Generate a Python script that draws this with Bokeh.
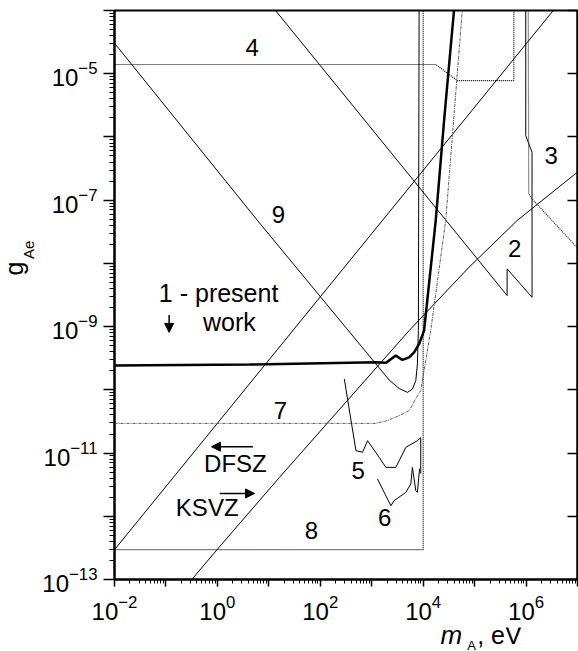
from bokeh.plotting import figure
from bokeh.layouts import column, row
from bokeh.models import FixedTicker, LogAxis, Label, Arrow, NormalHead, CustomJSTickFormatter, Range1d
from bokeh.core.properties import value
from bokeh.embed import file_html
from bokeh.resources import INLINE

# ---------------- data (m_A in eV, g_Ae) ----------------
c1_m = [0.01, 4.23, 1205, 1884, 2944, 3954, 5333, 6668, 8337, 10420, 17540, 26000, 39720]
c1_g = [2.42e-10, 2.51e-10, 2.72e-10, 2.67e-10, 3.48e-10, 2.97e-10, 3.27e-10, 3.92e-10,
        5.32e-10, 8.65e-10, 4.75e-8, 2.18e-6, 1e-4]

c9_m = [0.01, 6.04, 1205, 2183, 3412, 4943, 6180, 7194, 7727, 8072, 8337]
c9_g = [3.04e-5, 4.75e-8, 2.57e-10, 1.43e-10, 1.05e-10, 9.12e-11, 1.03e-10, 1.40e-10,
        2.57e-10, 8.65e-10, 1e-4]

c7_m = [0.01, 1205, 1995, 3412, 5333, 7194, 8974, 14030, 27420, 57540]
c7_g = [2.95e-11, 2.95e-11, 3.26e-11, 3.91e-11, 4.69e-11, 7.26e-11, 9.70e-11, 8.65e-10, 4.75e-8, 1e-4]

c8_m = [0.01, 1e4, 1e4]
c8_g = [2.96e-13, 2.96e-13, 1e-4]

c4_m = [0.01, 17540, 46030, 578100, 578100]
c4_g = [1.40e-5, 1.40e-5, 7.80e-6, 7.80e-6, 1e-4]

c2_m = [13.49, 428500, 428500, 1306000, 1306000, 986200, 986200]
c2_g = [1e-4, 3.10e-9, 8.18e-9, 2.91e-9, 5.73e-7, 1.05e-6, 1e-4]

c3_m = [1.104e6, 1.127e6, 1.306e6, 1e7]
c3_g = [1e-4, 1.26e-7, 1.05e-7, 1.75e-8]

c5_m = [293.1, 379.3, 494.3, 663.7, 829.8, 1396, 1884, 2944, 4603, 7727, 8974, 8974]
c5_g = [1.49e-10, 4.06e-11, 1.09e-11, 1.03e-11, 1.57e-11, 8.55e-12, 5.94e-12, 5.94e-12,
        1.23e-11, 1.57e-11, 1.75e-11, 4.72e-12]

c6_m = [1294, 2355, 2729, 4603, 5754, 6180, 7194, 7727, 8511]
c6_g = [3.89e-12, 1.47e-12, 1.77e-12, 2.39e-12, 3.24e-12, 5.94e-12, 2.54e-12, 2.39e-12, 5.66e-12]

dfsz_m = [0.01, 3.38e6]
dfsz_g = [2.96e-13, 1e-4]

ksvz_m = [0.313, 0.982, 16.11, 5333, 77620, 669900, 1e7]
ksvz_g = [9.82e-14, 2.96e-13, 4.13e-12, 8.65e-10, 8.67e-9, 4.75e-8, 2.78e-7]

x_major = [1e-2, 1e-1, 1.0, 1e1, 1e2, 1e3, 1e4, 1e5, 1e6, 1e7]
y_major = [1e-13, 1e-12, 1e-11, 1e-10, 1e-9, 1e-8, 1e-7, 1e-6, 1e-5, 1e-4]
x_labeled = [1e-2, 1.0, 1e2, 1e4, 1e6]
y_labeled = [1e-13, 1e-11, 1e-9, 1e-7, 1e-5]

# curve number labels: text, m, g (text anchor)
num_text = ["4", "9", "3", "2", "7", "5", "6", "8"]
num_m = [4.72, 15.42, 3.076e6, 6.04e5, 16.87, 547, 1786, 67.1]
num_g = [2.63e-5, 6.02e-8, 5.09e-7, 1.70e-8, 4.71e-11, 5.28e-12, 9.64e-13, 5.95e-13]

FONT = "Liberation Sans"
YW = 36          # width of the y-title strip
MH = 627         # height of the main figure
XH = 651 - MH    # height of the x-title strip

p = figure(width=578 - YW, height=MH, x_axis_type="log", y_axis_type="log",
           x_range=(1e-2, 1e7), y_range=(1e-13, 1e-4), title=None,
           output_backend="svg", toolbar_location=None,
           min_border_left=114 - YW, min_border_right=1, min_border_top=10,
           min_border_bottom=MH - 579)
p.grid.visible = False
p.outline_line_color = "black"
p.outline_line_width = 2

def minors(majors):
    out = []
    for d in majors[:-1]:
        out += [j * d for j in range(2, 10)]
    return out

p.xaxis.ticker = FixedTicker(ticks=x_major, minor_ticks=minors(x_major))
p.yaxis.ticker = FixedTicker(ticks=y_major, minor_ticks=minors(y_major))
p.xaxis.major_label_overrides = {t: "" for t in x_major if t not in x_labeled}
p.yaxis.major_label_overrides = {t: "" for t in y_major if t not in y_labeled}

for ax in (p.xaxis[0], p.yaxis[0]):
    ax.axis_line_width = 2
    ax.major_tick_line_width = 1.5
    ax.minor_tick_line_width = 1
    ax.major_tick_in = 0
    ax.minor_tick_in = 0
    ax.major_label_text_font = FONT
    ax.major_label_text_font_size = "24px"
    ax.major_label_text_color = "black"
p.xaxis.major_tick_out = 7
p.xaxis.minor_tick_out = 4
p.xaxis.major_label_standoff = 8
p.yaxis.major_tick_out = 11
p.yaxis.minor_tick_out = 5
p.yaxis.major_label_standoff = 6

right = LogAxis(ticker=FixedTicker(ticks=y_major, minor_ticks=[]),
                formatter=CustomJSTickFormatter(code="return ''"),
                major_tick_in=10, major_tick_out=0, minor_tick_in=0, minor_tick_out=0,
                major_label_standoff=0, major_label_text_font_size="0px",
                axis_line_width=2, major_tick_line_width=1.5)
p.add_layout(right, "right")

# curves
p.line(c9_m, c9_g, line_color="black", line_width=1)
p.line(c2_m, c2_g, line_color="black", line_width=1)
p.line(dfsz_m, dfsz_g, line_color="black", line_width=1)
p.line(ksvz_m, ksvz_g, line_color="black", line_width=1)
p.line(c5_m, c5_g, line_color="black", line_width=1)
p.line(c6_m, c6_g, line_color="black", line_width=1)
p.line(c8_m, c8_g, line_color="black", line_width=1.2, line_dash="1 1")
p.line(c4_m, c4_g, line_color="black", line_width=1.2, line_dash="1 1")
p.line(c3_m, c3_g, line_color="#222222", line_width=1.2, line_dash="1 1")
p.line(c7_m, c7_g, line_color="#555555", line_width=1, line_dash="3 1 1 1")
p.line(c1_m, c1_g, line_color="black", line_width=2.5)

for t, m, g in zip(num_text, num_m, num_g):
    p.add_layout(Label(x=m, y=g, text=t, text_align="center", text_baseline="alphabetic",
                       text_font=FONT, text_font_size="24px", text_color="black"))

def lab(x, y, t, size="24px", align="left"):
    p.add_layout(Label(x=x, y=y, text=t, text_align=align, text_baseline="alphabetic",
                       text_font=FONT, text_font_size=size, text_color="black"))

lab(2.244, 6.72e-12, "DFSZ", align="center")
lab(0.634, 1.385e-12, "KSVZ", align="center")
lab(0.0728, 3.34e-9, "1 - present", size="25px")
lab(0.526, 1.19e-9, "work", size="25px")

# arrows
for xs, ys, xe, ye in [(4.9, 1.26e-11, 0.766, 1.26e-11),
                       (1.11, 2.3e-12, 5.28, 2.3e-12),
                       (0.1153, 1.53e-9, 0.1153, 8.1e-10)]:
    p.add_layout(Arrow(x_start=xs, y_start=ys, x_end=xe, y_end=ye, line_width=1.5,
                       end=NormalHead(size=9, fill_color="black", line_color="black")))

def strip(w, h):
    f = figure(width=w, height=h, x_range=Range1d(0, w), y_range=Range1d(0, h), title=None,
               output_backend="svg", toolbar_location=None,
               x_axis_location=None, y_axis_location=None,
               min_border=0, min_border_left=0, min_border_right=0,
               min_border_top=0, min_border_bottom=0)
    f.grid.visible = False
    f.outline_line_color = None
    return f

# ---- y title strip ----
yf = strip(YW, MH)
yf.text(x=[13.3], y=[MH - 292], text=["g"], angle=1.5708, text_align="left",
        text_baseline="alphabetic", text_font=value(FONT), text_font_size="25px", text_color="black")
yf.text(x=[28.0], y=[MH - 273.7], text=["Ae"], angle=1.5708, text_align="left",
        text_baseline="alphabetic", text_font=value(FONT), text_font_size="15px", text_color="black")

# ---- x title strip ----
xf = strip(578, XH)
xf.text(x=[440], y=[16.7], text=["m"], text_align="left", text_baseline="alphabetic",
        text_font=value(FONT), text_font_size="26px", text_font_style="italic", text_color="black")
xf.text(x=[466.7], y=[5.6], text=["A"], text_align="left", text_baseline="alphabetic",
        text_font=value(FONT), text_font_size="13px", text_color="black")
xf.text(x=[476.7], y=[16.7], text=[", eV"], text_align="left", text_baseline="alphabetic",
        text_font=value(FONT), text_font_size="25px", text_color="black")

layout = column(row(yf, p), xf)
open("out.html", "w").write(file_html(layout, INLINE))
